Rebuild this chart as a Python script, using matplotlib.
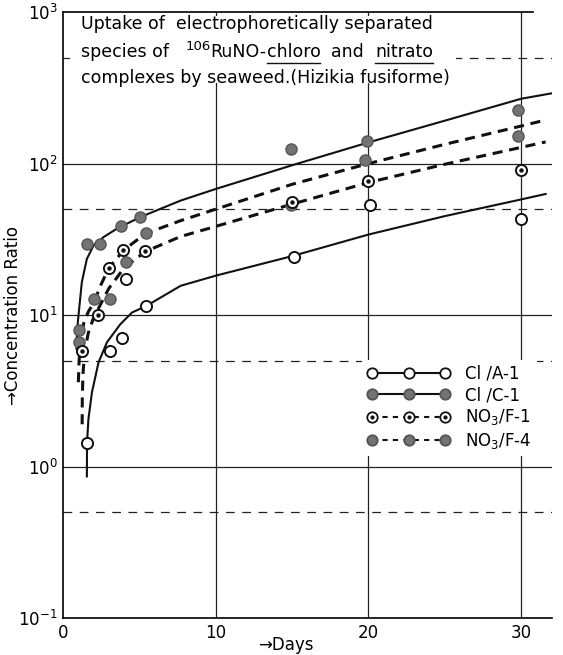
import matplotlib
matplotlib.use("Agg")
import matplotlib.pyplot as plt
from matplotlib.lines import Line2D
from matplotlib.legend_handler import HandlerTuple
from matplotlib.patches import Rectangle

# measured uptake points (days, concentration ratio)
a1_days = [1.56, 3.05, 3.85, 4.15, 5.45, 15.1, 20.1, 30.0]
a1_ratio = [1.44, 5.8, 7.1, 17.3, 11.5, 24.2, 53.5, 43.2]

c1_days = [1.55, 2.45, 3.8, 5.05, 14.9, 19.9, 29.8]
c1_ratio = [29.5, 29.5, 38.5, 44.5, 124, 140, 225]

f1_days = [1.27, 2.3, 3.0, 3.95, 5.35, 15.0, 20.0, 30.0]
f1_ratio = [5.8, 10.0, 20.4, 26.7, 26.3, 56, 77, 91]

f4_days = [1.05, 1.05, 2.0, 3.1, 4.1, 5.4, 14.9, 19.8, 29.8]
f4_ratio = [8.0, 6.6, 12.8, 12.8, 22.3, 34.7, 53, 105, 152]

# hand-drawn trend curves
a1_curve_days = [1.56, 1.57, 1.66, 1.89, 2.32, 2.87, 3.75, 4.52, 5.46, 7.7, 10, 15, 20, 25, 30, 31.6]
a1_curve = [0.86, 1.44, 2.05, 3.08, 4.86, 6.6, 8.7, 10.4, 11.5, 15.6, 18.2, 24.5, 34, 45, 58, 63]

c1_curve_days = [0.88, 0.92, 1.0, 1.23, 1.56, 2.0, 2.65, 3.53, 5.07, 7.7, 10, 15, 20, 25, 30, 32]
c1_curve = [6.0, 8.0, 9.7, 16.5, 23.5, 28.8, 32.7, 37.2, 44.4, 57, 68, 97.5, 138, 192, 268, 291]

f4_curve_days = [1.0, 1.05, 1.15, 1.35, 1.65, 2.0, 2.5, 3.0, 4.0, 5.4, 7.7, 10, 15, 20, 25, 30, 31.6]
f4_curve = [3.6, 5.0, 6.8, 8.8, 10.5, 12.0, 16.0, 20.5, 27.0, 34.5, 42.0, 50.0, 73.0, 100, 134, 177, 194]

f1_curve_days = [1.25, 1.26, 1.3, 1.4, 1.65, 2.0, 2.5, 3.0, 4.0, 5.4, 7.7, 10, 15, 20, 25, 30, 31.6]
f1_curve = [1.9, 2.8, 4.0, 5.6, 7.6, 9.6, 12, 15, 20.5, 26.3, 33, 38.5, 54, 75, 99, 128, 139]

labels = ["Cl /A-1", "Cl /C-1", "NO$_3$/F-1", "NO$_3$/F-4"]

x_ticks = [0, 10, 20, 30]
solid_grid = [1, 10, 100]
dashed_grid = [0.5, 5, 50, 500]

plt.rcParams["font.family"] = ["DejaVu Sans"]
plt.rcParams["mathtext.fontset"] = "dejavusans"

fig = plt.figure(figsize=(5.63, 6.55), dpi=100)
ax = fig.add_axes([0.112, 0.0565, 0.868, 0.925])
ax.set_yscale("log")
ax.set_xlim(0, 32)
ax.set_ylim(0.1, 1000)

# grid
for v in x_ticks[1:]:
    ax.axvline(v, color="#222", lw=0.9, zorder=1)
for v in solid_grid:
    ax.axhline(v, color="#222", lw=0.9, zorder=1)
for v in dashed_grid:
    ax.axhline(v, color="#222", lw=0.9, dashes=(7, 6), zorder=1)

ax.set_xticks(x_ticks)
ax.set_yticks([0.1, 1, 10, 100, 1000])
ax.minorticks_off()
ax.tick_params(length=0, labelsize=12, pad=4)
ax.spines["right"].set_visible(False)
ax.spines["top"].set_bounds(0, 30.8)
for s in ax.spines.values():
    s.set_linewidth(1.2)
    s.set_zorder(6)

# trend curves
ax.plot(a1_curve_days, a1_curve, color="#111", lw=1.5, zorder=3)
ax.plot(c1_curve_days, c1_curve, color="#111", lw=1.5, zorder=3)
ax.plot(f1_curve_days, f1_curve, color="#111", lw=2.2, dashes=(3.3, 2.2), zorder=3)
ax.plot(f4_curve_days, f4_curve, color="#111", lw=2.2, dashes=(3.3, 2.2), zorder=3)

gray = "#737373"
ms = 8
ax.plot(a1_days, a1_ratio, "o", ms=ms, mfc="white", mec="#111", mew=1.4, zorder=4)
ax.plot(c1_days, c1_ratio, "o", ms=ms, mfc=gray, mec="#555", mew=1.0, zorder=4)
ax.plot(f4_days, f4_ratio, "o", ms=ms, mfc=gray, mec="#555", mew=1.0, zorder=4)
ax.plot(f1_days, f1_ratio, "o", ms=ms, mfc="white", mec="#111", mew=1.4, zorder=5)
ax.plot(f1_days, f1_ratio, "o", ms=2.2, mfc="#111", mec="#111", zorder=5)

# title block on a white patch
ax.add_patch(Rectangle((0.015, 0.883), 0.79, 0.11, transform=ax.transAxes,
                       facecolor="white", edgecolor="none", zorder=2))

fig.canvas.draw()
renderer = fig.canvas.get_renderer()
fs = 12.5


def put_line(x, y, pieces):
    for text, size, rise, underline in pieces:
        t = ax.text(x, y + rise, text, transform=ax.transAxes, fontsize=size,
                    ha="left", va="baseline", zorder=7)
        bb = t.get_window_extent(renderer)
        if underline:
            y0 = bb.y0 - 2
            fx0, fy0 = fig.transFigure.inverted().transform((bb.x0, y0))
            fx1, _ = fig.transFigure.inverted().transform((bb.x1, y0))
            fig.add_artist(Line2D([fx0, fx1], [fy0, fy0], color="#111", lw=1.0))
        x = ax.transAxes.inverted().transform((bb.x1, bb.y0))[0]


put_line(0.036, 0.972, [("Uptake of  electrophoretically separated", fs, 0, False)])
put_line(0.036, 0.926, [("species of   ", fs, 0, False), ("106", 9.5, 0.012, False),
                        ("RuNO-", fs, 0, False), ("chloro", fs, 0, True),
                        ("  and  ", fs, 0, False), ("nitrato", fs, 0, True)])
put_line(0.036, 0.883, [("complexes by seaweed.(Hizikia fusiforme)", fs, 0, False)])

# legend: line part and marker part of each entry drawn as a pair
def entry(dashed, face, dot=False):
    if dashed:
        line = Line2D([], [], color="#111", lw=1.5, linestyle=(0, (2.5, 2.5)))
    else:
        line = Line2D([], [], color="#111", lw=1.5, linestyle="-")
    edge = "#111" if face == "white" else "#555"
    mark = Line2D([], [], linestyle="none", marker="o", ms=7.5, mfc=face, mec=edge, mew=1.3)
    if dot:
        center = Line2D([], [], linestyle="none", marker="o", ms=2, mfc="#111", mec="#111")
        return (line, mark, center)
    return (line, mark)


handles = [entry(False, "white"), entry(False, gray), entry(True, "white", dot=True), entry(True, gray)]
leg = ax.legend(handles, labels,
                handler_map={tuple: HandlerTuple(ndivide=1)},
                loc="upper left", bbox_to_anchor=(0.595, 0.44), numpoints=3,
                handlelength=5.0, handletextpad=0.9, labelspacing=0.2,
                fontsize=12, frameon=True, framealpha=1, facecolor="white",
                edgecolor="none", fancybox=False, borderpad=0.3)
leg.set_zorder(6)

ax.set_ylabel("→Concentration Ratio", fontsize=12)
ax.yaxis.set_label_coords(-0.085, 0.5)
ax.set_xlabel("→Days", fontsize=12)
ax.xaxis.set_label_coords(0.455, -0.03)

fig.savefig("out.png", dpi=100)
